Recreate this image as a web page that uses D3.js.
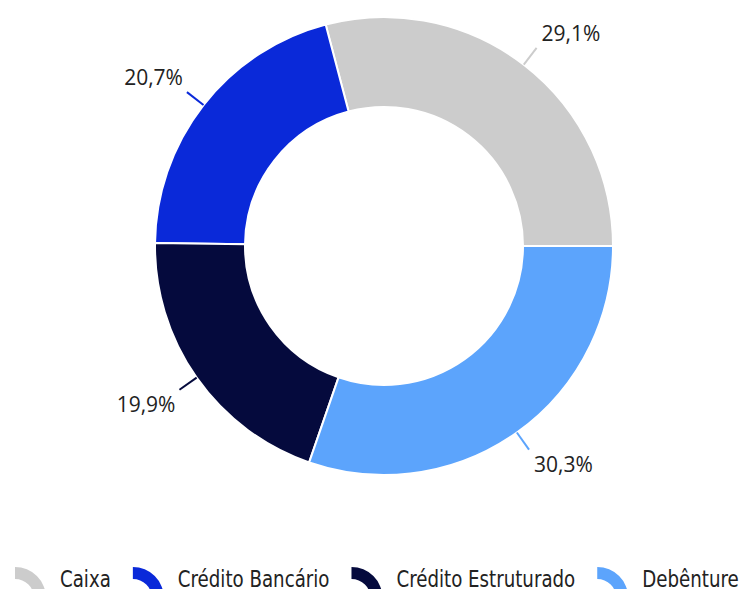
<!DOCTYPE html>
<html lang="pt">
<head>
  <meta charset="UTF-8">
  <title>Donut</title>
  <script src="https://d3js.org/d3.v7.min.js"></script>
  <style>
    body { margin: 0; background: #fff; }
    .lbl { font-family: "Open Sans", sans-serif; font-size: 21px; fill: #222; }
    .leg { font-family: "DejaVu Sans Condensed", "DejaVu Sans", sans-serif; font-size: 23px; fill: #222; }
  </style>
</head>
<body>
  <svg id="chart" width="745" height="589"></svg>
  <script>
    const categories = ["Caixa", "Crédito Bancário", "Crédito Estruturado", "Debênture"];
    const values = [29.1, 20.7, 19.9, 30.3];
    const labels = ["29,1%", "20,7%", "19,9%", "30,3%"];
    const colors = ["#cccccc", "#0a29d9", "#050a3d", "#5ca4fc"];

    const svg = d3.select("#chart");
    const cx = 384, cy = 246, rOut = 229, rIn = 139;

    // counter-clockwise from 3 o'clock
    const pie = d3.pie().sort(null).value(d => d)
      .startAngle(Math.PI / 2).endAngle(Math.PI / 2 - 2 * Math.PI);
    const arcs = pie(values);
    const arc = d3.arc().innerRadius(rIn).outerRadius(rOut);

    const g = svg.append("g").attr("transform", `translate(${cx},${cy})`);
    g.selectAll("path.slice")
      .data(arcs)
      .enter().append("path")
      .attr("class", "slice")
      .attr("d", arc)
      .attr("fill", (d, i) => colors[i])
      .attr("stroke", "#fff")
      .attr("stroke-width", 2);

    // leader lines + labels
    arcs.forEach((d, i) => {
      const a = (d.startAngle + d.endAngle) / 2;
      const sx = Math.sin(a), sy = -Math.cos(a);
      const x1 = sx * rOut, y1 = sy * rOut;
      const x2 = sx * 250, y2 = sy * 250;
      g.append("line")
        .attr("x1", x1).attr("y1", y1).attr("x2", x2).attr("y2", y2)
        .attr("stroke", colors[i]).attr("stroke-width", 2);
      const right = x2 > 0;
      g.append("text")
        .attr("class", "lbl")
        .attr("x", right ? x2 + 5 : x2 - 4)
        .attr("y", y2 < 0 ? y2 - 7 : y2 + 22)
        .attr("text-anchor", right ? "start" : "end")
        .text(labels[i]);
    });

    // legend (text squeezed a little horizontally)
    const legIcon = d3.arc().innerRadius(19).outerRadius(31).startAngle(0).endAngle(Math.PI / 2);
    const sq = 0.88;
    let lx = 15;
    categories.forEach((c, i) => {
      svg.append("path")
        .attr("transform", `translate(${lx},598)`)
        .attr("d", legIcon)
        .attr("fill", colors[i]);
      const t = svg.append("text")
        .attr("class", "leg")
        .attr("transform", `translate(${lx + 45},587) scale(${sq},1)`)
        .text(c);
      lx += 45 + t.node().getComputedTextLength() * sq + 22;
    });
  </script>
</body>
</html>
